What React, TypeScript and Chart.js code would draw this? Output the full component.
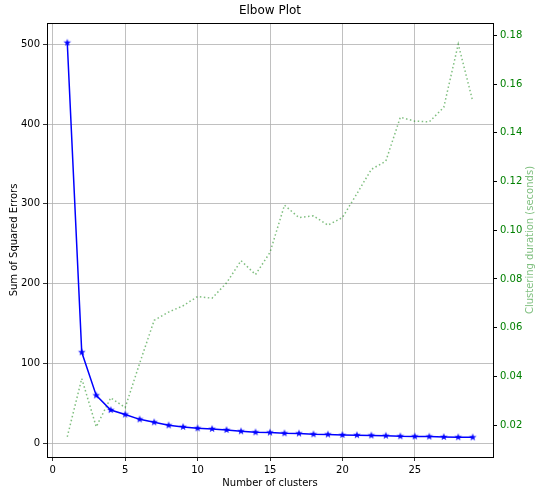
import React, { useEffect, useRef } from "react";
import { Chart, registerables } from "chart.js";

Chart.register(...registerables);

const CLUSTERS = [1, 2, 3, 4, 5, 6, 7, 8, 9, 10, 11, 12, 13, 14, 15, 16, 17, 18, 19, 20, 21, 22, 23, 24, 25, 26, 27, 28, 29];
const SSE = [502, 114, 60, 41.7, 36, 30, 26.3, 22.5, 20.5, 18.8, 18, 16.7, 15, 13.8, 13.5, 12.5, 12.3, 11.3, 11, 10.4, 10.2, 9.8, 9.5, 8.8, 8.6, 8.4, 7.9, 7.6, 7.4];
const DURATION = [0.0152, 0.0391, 0.0193, 0.0312, 0.0272, 0.0454, 0.063, 0.0664, 0.069, 0.0728, 0.0721, 0.0784, 0.0875, 0.0818, 0.0909, 0.1103, 0.1052, 0.1059, 0.1021, 0.1052, 0.115, 0.125, 0.1284, 0.1464, 0.1448, 0.1445, 0.1505, 0.1764, 0.153];
const X_TICKS = [0, 5, 10, 15, 20, 25];
const SSE_TICKS = [0, 100, 200, 300, 400, 500];
const DUR_TICKS = [0.02, 0.04, 0.06, 0.08, 0.1, 0.12, 0.14, 0.16, 0.18];

const TITLE = "Elbow Plot";
const X_LABEL = "Number of clusters";
const Y_LABEL = "Sum of Squared Errors";
const Y1_LABEL = "Clustering duration (seconds)";

const FONT = "'DejaVu Sans', sans-serif";

function makeStar(color: string, r: number) {
  const c = document.createElement("canvas");
  const s = Math.ceil(r * 2 + 2);
  c.width = s;
  c.height = s;
  const ctx = c.getContext("2d")!;
  ctx.fillStyle = color;
  ctx.beginPath();
  for (let i = 0; i < 10; i++) {
    const rad = i % 2 === 0 ? r : r * 0.4;
    const a = -Math.PI / 2 + (i * Math.PI) / 5;
    ctx.lineTo(s / 2 + rad * Math.cos(a), s / 2 + rad * Math.sin(a));
  }
  ctx.closePath();
  ctx.fill();
  return c;
}

const decoPlugin = {
  id: "deco",
  afterDraw(chart: any) {
    const { ctx, chartArea: a } = chart;
    ctx.save();
    ctx.strokeStyle = "#000";
    ctx.lineWidth = 1;
    ctx.strokeRect(Math.round(a.left) + 0.5, Math.round(a.top) + 0.5, Math.round(a.right - a.left), Math.round(a.bottom - a.top));

    ctx.fillStyle = "#000";
    ctx.textAlign = "center";
    ctx.textBaseline = "middle";
    ctx.font = `12px ${FONT}`;
    ctx.fillText(TITLE, (a.left + a.right) / 2, 11);

    ctx.font = `10px ${FONT}`;
    ctx.fillText(X_LABEL, (a.left + a.right) / 2, 483);

    const cy = (a.top + a.bottom) / 2;
    ctx.save();
    ctx.translate(14, cy);
    ctx.rotate(-Math.PI / 2);
    ctx.fillText(Y_LABEL, 0, 0);
    ctx.restore();

    ctx.save();
    ctx.translate(530, cy);
    ctx.rotate(-Math.PI / 2);
    ctx.fillStyle = "rgba(0,128,0,0.5)";
    ctx.fillText(Y1_LABEL, 0, 0);
    ctx.restore();

    ctx.restore();
  },
};

export default function App() {
  const ref = useRef<HTMLCanvasElement>(null);

  useEffect(() => {
    if (!ref.current) return;
    const star = makeStar("#0000ff", 4);
    const chart = new Chart(ref.current, {
      type: "line",
      data: {
        datasets: [
          {
            label: "sse",
            data: CLUSTERS.map((x, i) => ({ x, y: SSE[i] })),
            borderColor: "#0000ff",
            backgroundColor: "#0000ff",
            borderWidth: 1.5,
            pointStyle: star as any,
            pointRadius: 4,
            yAxisID: "y",
            tension: 0,
          },
          {
            label: "duration",
            data: CLUSTERS.map((x, i) => ({ x, y: DURATION[i] })),
            borderColor: "rgba(0,128,0,0.5)",
            borderWidth: 1.5,
            borderDash: [1.5, 2.5],
            pointRadius: 0,
            yAxisID: "y1",
            tension: 0,
          },
        ],
      },
      options: {
        animation: false,
        responsive: false,
        layout: { padding: { top: 23, left: 0, right: 0, bottom: 0 } },
        plugins: { legend: { display: false }, tooltip: { enabled: false }, title: { display: false } },
        scales: {
          x: {
            type: "linear",
            min: -0.4,
            max: 30.4,
            afterBuildTicks: (s: any) => {
              s.ticks = X_TICKS.map((v) => ({ value: v }));
            },
            afterFit: (s: any) => {
              s.height = 39;
            },
            grid: { color: "#b0b0b0", lineWidth: 0.8, tickColor: "#000", tickLength: 4, drawTicks: true },
            border: { display: false },
            ticks: { color: "#000", font: { family: FONT, size: 10 }, padding: 3, maxRotation: 0 },
          },
          y: {
            type: "linear",
            position: "left",
            min: -17.2,
            max: 526.7,
            afterBuildTicks: (s: any) => {
              s.ticks = SSE_TICKS.map((v) => ({ value: v }));
            },
            afterFit: (s: any) => {
              s.width = 47;
            },
            grid: { color: "#b0b0b0", lineWidth: 0.8, tickColor: "#000", tickLength: 4, drawTicks: true },
            border: { display: false },
            ticks: { color: "#000", font: { family: FONT, size: 10 }, padding: 3 },
          },
          y1: {
            type: "linear",
            position: "right",
            min: 0.0069,
            max: 0.1851,
            afterBuildTicks: (s: any) => {
              s.ticks = DUR_TICKS.map((v) => ({ value: v }));
            },
            afterFit: (s: any) => {
              s.width = 50;
            },
            grid: { drawOnChartArea: false, tickColor: "#000", tickLength: 4, drawTicks: true },
            border: { display: false },
            ticks: {
              color: "#008000",
              font: { family: FONT, size: 10 },
              padding: 3,
              callback: (v: any) => Number(v).toFixed(2),
            },
          },
        },
      },
      plugins: [decoPlugin],
    });
    return () => chart.destroy();
  }, []);

  return (
    <div style={{ position: "absolute", left: 0, top: 0, width: 543, height: 496, background: "#fff" }}>
      <canvas ref={ref} width={543} height={496} style={{ display: "block", width: 543, height: 496 }} />
    </div>
  );
}
